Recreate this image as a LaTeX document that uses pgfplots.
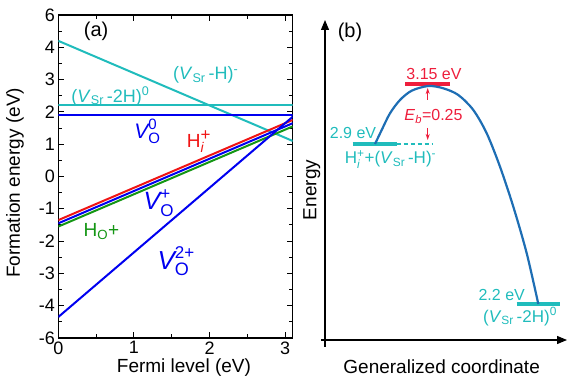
\documentclass[border=0pt]{standalone}
\usepackage{fontspec}
\setmainfont{Liberation Sans}
\usepackage{amsmath}
\usepackage{pgfplots}
\pgfplotsset{compat=1.18}
\usetikzlibrary{arrows.meta}
\definecolor{cyanc}{RGB}{32,188,188}
\definecolor{bluec}{RGB}{0,0,240}
\definecolor{redc}{RGB}{240,20,20}
\definecolor{greenc}{RGB}{20,150,20}
\definecolor{curvec}{RGB}{30,110,180}
\definecolor{redb}{RGB}{238,30,60}
\newcommand{\fs}[1]{\fontsize{#1}{#1}\selectfont}
\begin{document}
\begin{tikzpicture}[x=1pt,y=1pt]
\useasboundingbox (0,0) rectangle (569,377);
\begin{axis}[
  at={(58.3pt,39pt)}, anchor=south west, scale only axis,
  width=234.4pt, height=323pt,
  xmin=0, xmax=3.1, ymin=-5, ymax=5,
  xtick={0,1,2,3}, xticklabels={0,1,2,3},
  ytick={-5,-4,-3,-2,-1,0,1,2,3,4,5},
  yticklabels={-6,-4,-3,-2,-1,0,1,2,3,4,6},
  minor x tick num=1, minor y tick num=1,
  tick style={black, line width=1pt},
  major tick length=6pt, minor tick length=4pt,
  axis line style={line width=1.2pt},
  tick label style={font=\fs{18}},
  xlabel={Fermi level (eV)}, ylabel={Formation energy (eV)},
  label style={font=\fs{19}},
  xlabel style={at={(axis description cs:0.536,-0.092)},anchor=center},
  ylabel style={at={(axis description cs:-0.185,0.48)},anchor=center},
]
\addplot[cyanc, line width=2pt] coordinates {(0,4.2) (3.1,1.1)};
\addplot[cyanc, line width=2pt] coordinates {(0,2.2) (3.1,2.2)};
\addplot[bluec, line width=2pt] coordinates {(0,1.9) (3.1,1.9)};
\addplot[redc, line width=2pt] coordinates {(0,-1.35) (3.1,1.75)};
\addplot[bluec, line width=2pt] coordinates {(0,-1.45) (3.1,1.65)};
\addplot[greenc, line width=2pt] coordinates {(0,-1.55) (3.1,1.55)};
\addplot[bluec, line width=2pt] coordinates {(0,-4.35) (3.1,1.85)};
\node[font=\fs{20}] at (axis cs:0.5,4.49) {(a)};
\node[cyanc, font=\fs{18}] at (axis cs:1.95,3.15) {(\textit{V}\textsubscript{Sr}\,-H)\textsuperscript{-}};
\node[cyanc, font=\fs{18}] at (axis cs:0.69,2.48) {(\textit{V}\textsubscript{Sr}\,-2H)\textsuperscript{0}};
\node[bluec, font=\fs{21}] at (axis cs:1.18,1.39) {$\textit{V}_{\text{\fs{15}O}}^{\text{\fs{15}0}}$};
\node[redc, font=\fs{19}] at (axis cs:1.86,1.08) {$\text{H}_{\text{\fs{14}\textit{i}}}^{\text{\fs{17}+}}$};
\node[bluec, font=\fs{25}] at (axis cs:1.33,-0.82) {$\textit{V}_{\text{\fs{17}O}}^{\text{\fs{17}+}}$};
\node[greenc, font=\fs{19}] at (axis cs:0.57,-1.70) {H\textsubscript{O}+};
\node[bluec, font=\fs{26}] at (axis cs:1.56,-2.63) {$\textit{V}_{\text{\fs{18}O}}^{\text{\fs{17}2+}}$};
\end{axis}
\begin{axis}[
  at={(325pt,37pt)}, anchor=south west, scale only axis,
  width=242pt, height=320pt,
  xmin=325, xmax=567, ymin=37, ymax=357,
  axis lines=left,
  axis line style={line width=1.2pt},
  every outer x axis line/.append style={-{Triangle[length=10pt,width=8pt]}},
  every outer y axis line/.append style={-{Triangle[length=10pt,width=8pt]}},
  xtick=\empty, ytick=\empty,
  xlabel={Generalized coordinate}, ylabel={Energy},
  label style={font=\fs{19}},
  xlabel style={at={(axis description cs:0.482,-0.083)},anchor=center},
  ylabel style={at={(axis description cs:-0.055,0.469)},anchor=center},
  clip=false,
]
\draw[line width=1.2pt] (axis cs:325,37) -- (axis cs:325,30);
\draw[line width=1.2pt] (axis cs:321,37) -- (axis cs:325,37);
\addplot[cyanc, line width=4pt] coordinates {(352.7,233) (396.7,233)};
\addplot[cyanc, line width=1.5pt, dash pattern=on 4pt off 3pt] coordinates {(396.7,233) (433.3,233)};
\addplot[redb, line width=4pt] coordinates {(405,292.7) (450,292.7)};
\addplot[cyanc, line width=4pt] coordinates {(516.7,73) (560,73)};
\addplot[curvec, line width=2.2pt, smooth] coordinates {
 (375,233) (381.7,247) (390,263.7) (400,277) (411.7,286.3) (428.3,291)
 (443.3,288.7) (458.3,282) (473.3,267) (486.7,243.7) (500,210.3)
 (513.3,170.3) (526.7,123.7) (538.3,73)};
\draw[redb, line width=1pt, -{Stealth[length=6pt,width=4pt]}] (axis cs:427.7,277) -- (axis cs:427.7,289);
\draw[redb, line width=1pt, -{Stealth[length=6pt,width=4pt]}] (axis cs:427.7,249) -- (axis cs:427.7,237);
\node[font=\fs{20}] at (axis cs:350,345) {(b)};
\node[cyanc, font=\fs{16}] at (axis cs:353,244.5) {2.9 eV};
\node[cyanc, font=\fs{17}] at (axis cs:390.5,217.5) {H$_{\textit{i}}^{\text{+}}$+(\textit{V}\textsubscript{Sr}\,-H)\textsuperscript{-}};
\node[redb, font=\fs{16}] at (axis cs:434,303) {3.15 eV};
\node[redb, font=\fs{16}] at (axis cs:433.5,260.3) {\textit{E}\textsubscript{\textit{b}}=0.25};
\node[cyanc, font=\fs{16}] at (axis cs:501.7,82) {2.2 eV};
\node[cyanc, font=\fs{17}] at (axis cs:520,60.3) {(\textit{V}\textsubscript{Sr}\,-2H)\textsuperscript{0}};
\end{axis}
\end{tikzpicture}
\end{document}
